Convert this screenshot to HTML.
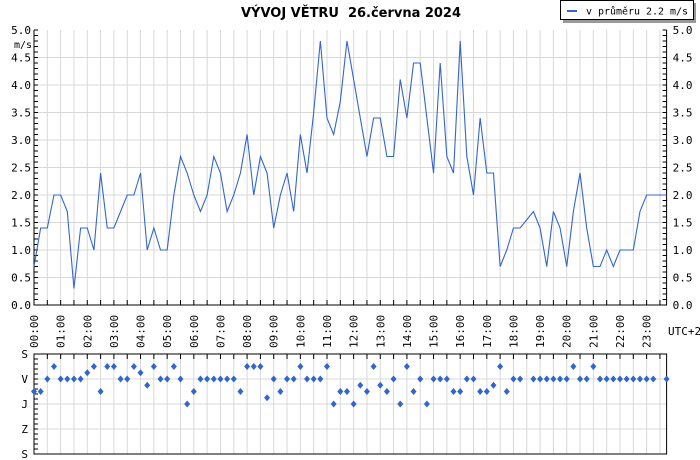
<!DOCTYPE html>
<html><head><meta charset="utf-8"><style>
body{margin:0;background:#fff;width:700px;height:460px;overflow:hidden}
svg{display:block;font-family:"DejaVu Sans Mono","Liberation Mono",monospace}
</style></head><body>
<svg id="c" width="700" height="460" viewBox="0 0 700 460">
<text x="351" y="17" text-anchor="middle" font-family="DejaVu Sans, Liberation Sans, sans-serif" font-weight="bold" font-size="13" fill="#000" textLength="220">VÝVOJ VĚTRU&#160; 26.června 2024</text>
<g>
<rect x="563" y="3" width="133" height="20" fill="#999"/>
<rect x="560.5" y="0.5" width="133" height="19" fill="#fff" stroke="#000"/>
<line x1="567" y1="11" x2="577" y2="11" stroke="#3366cc" stroke-width="2"/>
<text x="586" y="14.5" font-size="10" textLength="102" fill="#000">v průměru 2.2 m/s</text>
</g>
<g id="g"></g>
</svg>
<script>
const speeds=[0.7,1.4,1.4,2.0,2.0,1.7,0.3,1.4,1.4,1.0,2.4,1.4,1.4,1.7,2.0,2.0,2.4,1.0,1.4,1.0,1.0,2.0,2.7,2.4,2.0,1.7,2.0,2.7,2.4,1.7,2.0,2.4,3.1,2.0,2.7,2.4,1.4,2.0,2.4,1.7,3.1,2.4,3.5,4.8,3.4,3.1,3.7,4.8,4.1,3.4,2.7,3.4,3.4,2.7,2.7,4.1,3.4,4.4,4.4,3.4,2.4,4.4,2.7,2.4,4.8,2.7,2.0,3.4,2.4,2.4,0.7,1.0,1.4,1.4,1.55,1.7,1.4,0.7,1.7,1.4,0.7,1.7,2.4,1.4,0.7,0.7,1.0,0.7,1.0,1.0,1.0,1.7,2.0,2.0,2.0,2.0];
const directions=[135,135,90,45,90,90,90,90,67.5,45,135,45,45,90,90,45,67.5,112.5,45,90,90,45,90,180,135,90,90,90,90,90,90,135,45,45,45,157.5,90,135,90,90,45,90,90,90,45,180,135,135,180,112.5,135,45,112.5,135,90,180,45,135,90,180,90,90,90,135,135,90,90,135,135,112.5,45,135,90,90,null,90,90,90,90,90,90,45,90,90,45,90,90,90,90,90,90,90,90,90,null,90];
const hourLabels=["00:00","01:00","02:00","03:00","04:00","05:00","06:00","07:00","08:00","09:00","10:00","11:00","12:00","13:00","14:00","15:00","16:00","17:00","18:00","19:00","20:00","21:00","22:00","23:00"];
const speedTicks=["0.0","0.5","1.0","1.5","2.0","2.5","3.0","3.5","4.0","4.5","5.0"];
const dirLabels=["S","V","J","Z","S"];
const stepHours=0.25;

const NS="http://www.w3.org/2000/svg";
const g=document.getElementById('g');
const L=34,R=666.6,T=30,B=305,DT=354,DB=454;
const maxH=(speeds.length-1)*stepHours;
function xs(h){return L+(R-L)*h/maxH;}
function ys(v){return B-(B-T)*v/5;}
function yd(d){return DT+(DB-DT)*d/360;}
function mk(tag,a,p){const e=document.createElementNS(NS,tag);for(const k in a)e.setAttribute(k,a[k]);(p||g).appendChild(e);return e;}

for(let h=0.5;h<=maxH;h+=0.5){
  const x=xs(h);
  const l1=mk('line',{x1:x,y1:T,x2:x,y2:B,stroke:'#d8d8d8'});
  
  
  const l2=mk('line',{x1:x,y1:DT,x2:x,y2:DB,stroke:'#d8d8d8'});
  
  
  mk('line',{x1:x,y1:B,x2:x,y2:B-5,stroke:'#000'});
  mk('line',{x1:x,y1:DT,x2:x,y2:DT+5,stroke:'#000'});
}
speedTicks.forEach((t,i)=>{
  const v=parseFloat(t),y=ys(v);
  if(i>0&&i<speedTicks.length-1){const gl=mk('line',{x1:L,y1:y,x2:R,y2:y,stroke:'#d8d8d8'});
  
  }
  const a=mk('text',{x:L-3,y:y+4,'text-anchor':'end','font-size':11});a.textContent=t;
  
  
  const b=mk('text',{x:R+6,y:y+4,'font-size':11});b.textContent=t;
  
  
});
for(let v=0;v<=5.001;v+=0.1){const y=ys(v);mk('line',{x1:L,y1:y,x2:L+4,y2:y,stroke:'#000'});mk('line',{x1:R,y1:y,x2:R-4,y2:y,stroke:'#000'});}
const unit=mk('text',{x:L-2,y:48,'text-anchor':'end','font-size':10});unit.textContent='m/s';


dirLabels.forEach((t,i)=>{
  const y=DT+(DB-DT)*i/4;
  if(i>0&&i<4){const gl=mk('line',{x1:L,y1:y,x2:R,y2:y,stroke:'#d8d8d8'});
  
  }
  const a=mk('text',{x:L-6,y:y+4,'text-anchor':'end','font-size':11});a.textContent=t;
  
  
});
for(let y=DT;y<=DB;y+=5)mk('line',{x1:L,y1:y,x2:L+4,y2:y,stroke:'#000'});
hourLabels.forEach((t,i)=>{
  const x=xs(i);
  const a=mk('text',{transform:`translate(${x+4},348) rotate(-90)`,'font-size':11});a.textContent=t;
  
  
});
const tz=mk('text',{x:668,y:335,'font-size':11});tz.textContent='UTC+2';


mk('path',{d:`M${L},${T}V${B}H${R}V${T}`,fill:'none',stroke:'#000'});
const fr=mk('rect',{x:L,y:DT,width:R-L,height:DB-DT,fill:'none',stroke:'#000'});


const pts=speeds.map((v,i)=>xs(i*stepHours)+','+ys(v)).join(' ');
const pl=mk('polyline',{points:pts,fill:'none',stroke:'#3366cc','stroke-width':1.1});


directions.forEach((d,i)=>{
  if(d===null)return;
  const x=xs(i*stepHours),y=yd(d);
  const p=mk('path',{d:`M${x},${y-3.5}L${x+3},${y}L${x},${y+3.5}L${x-3},${y}Z`,fill:'#3366cc'});
  
  
});
</script>
</body></html>
